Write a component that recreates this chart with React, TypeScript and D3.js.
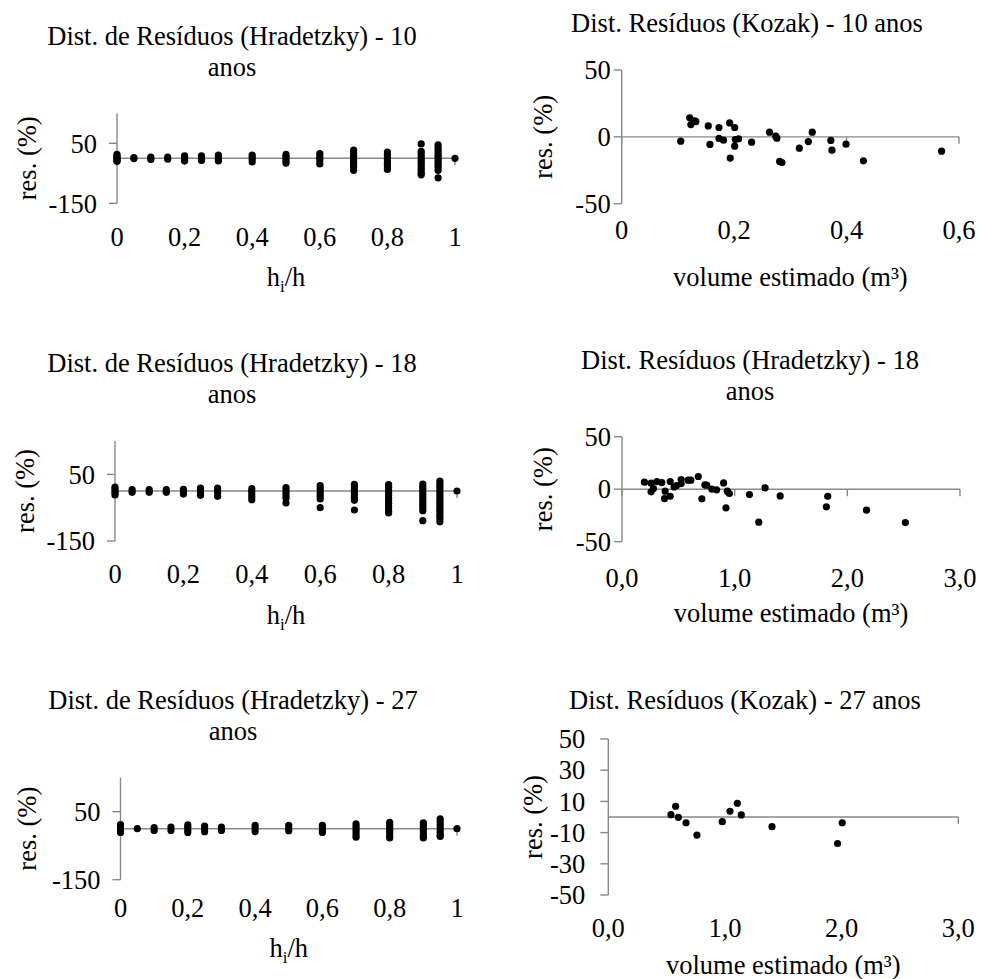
import { useEffect, useRef } from 'react';
import * as d3 from 'd3';

// alturas relativas medidas (hi/h)
const hLevels = [0, 0.05, 0.1, 0.15, 0.2, 0.25, 0.3, 0.4, 0.5, 0.6, 0.7, 0.8, 0.9, 0.95, 1];

// resíduos (%) por altura relativa - Hradetzky 10 anos
const resHrad10 = [
  [13, 8, 3, 0, -4, -8, -10],
  [2, -1],
  [4, 0, -4],
  [4, -3],
  [8, 2, -4, -9],
  [8, 2, -3, -7],
  [11, 5, -2, -9],
  [11, 4, -3, -12],
  [13, 6, -2, -9, -16],
  [16, 8, 0, -8, -19],
  [27, 18, 10, 2, -6, -14, -22, -30, -40],
  [21, 12, 4, -4, -12, -20, -28, -37],
  [48, 23, 14, 6, -2, -10, -18, -26, -34, -42, -50, -55],
  [45, 36, 27, 18, 10, 2, -6, -14, -22, -30, -40, -65],
  [0],
];

// Hradetzky 18 anos
const resHrad18 = [
  [12, 6, 0, -6, -12],
  [4, -4],
  [4, -4],
  [4, -4],
  [5, -1, -9],
  [9, 2, -5, -13],
  [9, 2, -6, -16],
  [7, -1, -9, -17, -26],
  [10, 2, -6, -14, -22, -36],
  [16, 8, 0, -8, -16, -24, -50],
  [20, 12, 4, -4, -12, -20, -28, -57],
  [19, 11, 3, -5, -13, -21, -29, -37, -45, -53, -61, -66],
  [21, 13, 5, -3, -11, -19, -27, -35, -43, -51, -59, -89],
  [30, 22, 14, 6, -2, -10, -18, -26, -34, -42, -50, -58, -66, -74, -82, -92],
  [0],
];

// Hradetzky 27 anos
const resHrad27 = [
  [12, 6, 0, -5, -11],
  [0],
  [3, -5],
  [5, -5],
  [11, 4, -4, -11],
  [8, 0, -9],
  [5, -5],
  [10, 2, -8],
  [10, 2, -6],
  [10, 2, -5, -11],
  [14, 6, -2, -10, -18, -25],
  [19, 11, 3, -5, -13, -21, -27],
  [17, 9, 1, -7, -15, -22, -27],
  [29, 21, 13, 5, -3, -11, -19, -23],
  [0],
];

// Kozak 10 anos: volume estimado (m³) x resíduo (%)
const volKozak10 = [0.105, 0.121, 0.123, 0.132, 0.130, 0.154, 0.157, 0.173, 0.173, 0.181, 0.192, 0.193, 0.201, 0.201, 0.202, 0.208, 0.231, 0.263, 0.274, 0.276, 0.281, 0.285, 0.316, 0.332, 0.339, 0.372, 0.374, 0.399, 0.430, 0.569];
const resKozak10 = [-3.2, 14.2, 9.2, 11.4, 12, 8.2, -5.7, 7, -1.2, -2.5, 10.4, -15.9, 7, -7, -2, -1.5, -4, 3.5, 0.5, -1, -18.4, -19.2, -8.5, -3.5, 3.5, -2.7, -10, -5.5, -17.9, -10.7];

// Hradetzky 18 anos (volume)
const volHrad18 = [0.199, 0.258, 0.258, 0.279, 0.309, 0.353, 0.383, 0.377, 0.428, 0.428, 0.463, 0.484, 0.525, 0.525, 0.587, 0.611, 0.677, 0.709, 0.736, 0.751, 0.798, 0.840, 0.902, 0.923, 0.935, 0.953, 1.131, 1.214, 1.270, 1.404, 1.814, 1.826, 2.170, 2.515];
const resVolHrad18 = [6.7, 5.7, -2.5, 0.6, 7.3, 6.3, -1.9, -8.9, -6.7, 7.3, 2.2, 3.5, 9.2, 5.4, 8.6, 8.6, 12.1, -9.2, 4.1, 3.8, 0, -0.6, 6, -17.8, -1.9, -4.1, -5.1, -31.4, 1.3, -6.4, -16.8, -6.7, -20, -31.8];

// Kozak 27 anos
const volKozak27 = [0.537, 0.577, 0.600, 0.666, 0.760, 0.977, 1.043, 1.106, 1.140, 1.403, 1.965, 2.005];
const resKozak27 = [1.5, 6.9, -0.2, -3.7, -11.6, -3, 3.7, 8.8, 1.3, -6.2, -17, -3.7];

// eixos
const hTicks = [0, 0.2, 0.4, 0.6, 0.8, 1];
const vol10Ticks = [0, 0.2, 0.4, 0.6];
const volTicks = [0, 1, 2, 3];
const resTicksWide = [-150, 50];
const resTicks50 = [-50, 0, 50];
const resTicks20 = [-50, -30, -10, 10, 30, 50];

const FONT = '"Liberation Serif", "Times New Roman", serif';
const AXIS = '#898989';
const FS = 26.5;

const comma = (v: number) => String(v).replace('.', ',');
const comma1 = (v: number) => v.toFixed(1).replace('.', ',');

const levelPoints = (res: number[][]) =>
  hLevels.flatMap((h, i) => res[i].map(r => [h, r]));
const pairPoints = (xs: number[], ys: number[]) => xs.map((x, i) => [x, ys[i]]);

const panels = [
  {
    title: ['Dist. de Resíduos (Hradetzky) - 10', 'anos'], titleX: 232, titleY: 45,
    x0: 117, x1: 455, yTop: 113.3, yBot: 203.3,
    xDomain: [0, 1], yDomain: [-150, 150], xTicks: hTicks, yTicks: resTicksWide, fmtX: comma,
    xTickY: 246, hTitle: true, xTitleY: 286, yTitleX: 27, yGap: 20, innerTicks: true,
    points: levelPoints(resHrad10),
  },
  {
    title: ['Dist. Resíduos (Kozak) - 10 anos'], titleX: 747, titleY: 32,
    x0: 621.7, x1: 959, yTop: 70, yBot: 203.7,
    xDomain: [0, 0.6], yDomain: [-50, 50], xTicks: vol10Ticks, yTicks: resTicks50, fmtX: comma,
    xTickY: 239, hTitle: false, xTitleY: 286, yTitleX: 543, yGap: 11, innerTicks: true,
    points: pairPoints(volKozak10, resKozak10),
  },
  {
    title: ['Dist. de Resíduos (Hradetzky) - 18', 'anos'], titleX: 232, titleY: 372,
    x0: 115, x1: 457, yTop: 441, yBot: 541,
    xDomain: [0, 1], yDomain: [-150, 150], xTicks: hTicks, yTicks: resTicksWide, fmtX: comma,
    xTickY: 583, hTitle: true, xTitleY: 624, yTitleX: 25, yGap: 20, innerTicks: true,
    points: levelPoints(resHrad18),
  },
  {
    title: ['Dist. Resíduos (Hradetzky) - 18', 'anos'], titleX: 750, titleY: 369,
    x0: 622, x1: 960, yTop: 436.7, yBot: 541.7,
    xDomain: [0, 3], yDomain: [-50, 50], xTicks: volTicks, yTicks: resTicks50, fmtX: comma1,
    xTickY: 587, hTitle: false, xTitleY: 622, yTitleX: 543, yGap: 11, innerTicks: true,
    points: pairPoints(volHrad18, resVolHrad18),
  },
  {
    title: ['Dist. de Resíduos (Hradetzky) - 27', 'anos'], titleX: 233, titleY: 709,
    x0: 120.5, x1: 457, yTop: 777.7, yBot: 879.7,
    xDomain: [0, 1], yDomain: [-150, 150], xTicks: hTicks, yTicks: resTicksWide, fmtX: comma,
    xTickY: 917, hTitle: true, xTitleY: 957, yTitleX: 27, yGap: 20, innerTicks: true,
    points: levelPoints(resHrad27),
  },
  {
    title: ['Dist. Resíduos (Kozak) - 27 anos'], titleX: 745, titleY: 709,
    x0: 608.3, x1: 958.3, yTop: 739, yBot: 895,
    xDomain: [0, 3], yDomain: [-50, 50], xTicks: volTicks, yTicks: resTicks20, fmtX: comma1,
    xTickY: 937, hTitle: false, xTitleY: 974, yTitleX: 533, yGap: 23, innerTicks: false,
    points: pairPoints(volKozak27, resKozak27),
  },
];

export default function App() {
  const svgRef = useRef<SVGSVGElement>(null);

  useEffect(() => {
    const svg = d3.select(svgRef.current);
    svg.selectAll('*').remove();

    panels.forEach(p => {
      const g = svg.append('g');
      const x = d3.scaleLinear().domain(p.xDomain).range([p.x0, p.x1]);
      const y = d3.scaleLinear().domain(p.yDomain).range([p.yBot, p.yTop]);

      // titulo
      p.title.forEach((t, i) => {
        g.append('text')
          .attr('x', p.titleX).attr('y', p.titleY + i * 31)
          .attr('text-anchor', 'middle')
          .text(t);
      });

      // eixo y
      g.append('line')
        .attr('x1', p.x0).attr('x2', p.x0)
        .attr('y1', y(p.yDomain[1])).attr('y2', y(p.yDomain[0]))
        .attr('stroke', AXIS).attr('stroke-width', 1.4);
      p.yTicks.forEach(v => {
        g.append('line')
          .attr('x1', p.x0 - 8).attr('x2', p.x0)
          .attr('y1', y(v)).attr('y2', y(v))
          .attr('stroke', AXIS).attr('stroke-width', 1.4);
        g.append('text')
          .attr('x', p.x0 - p.yGap).attr('y', y(v))
          .attr('dy', '0.35em')
          .attr('text-anchor', 'end')
          .text(v);
      });

      // eixo x (cruza em zero)
      g.append('line')
        .attr('x1', p.x0).attr('x2', p.x1)
        .attr('y1', y(0)).attr('y2', y(0))
        .attr('stroke', AXIS).attr('stroke-width', 1.4);
      p.xTicks.forEach((v, i) => {
        const last = i === p.xTicks.length - 1;
        if (p.innerTicks || last) {
          g.append('line')
            .attr('x1', x(v)).attr('x2', x(v))
            .attr('y1', y(0)).attr('y2', y(0) + 7)
            .attr('stroke', AXIS).attr('stroke-width', 1.4);
        }
        g.append('text')
          .attr('x', x(v)).attr('y', p.xTickY)
          .attr('text-anchor', 'middle')
          .text(p.fmtX(v));
      });

      // titulos dos eixos
      g.append('text')
        .attr('transform', `translate(${p.yTitleX},${(p.yTop + p.yBot) / 2}) rotate(-90)`)
        .attr('text-anchor', 'middle')
        .attr('dy', '0.35em')
        .text('res. (%)');

      const xt = g.append('text')
        .attr('x', (p.x0 + p.x1) / 2).attr('y', p.xTitleY)
        .attr('text-anchor', 'middle');
      if (p.hTitle) {
        xt.append('tspan').text('h');
        xt.append('tspan').attr('dy', 6).attr('font-size', 17).text('i');
        xt.append('tspan').attr('dy', -6).text('/h');
      } else {
        xt.text('volume estimado (m³)');
      }

      // pontos
      g.append('g')
        .selectAll('circle')
        .data(p.points)
        .join('circle')
        .attr('cx', d => x(d[0]))
        .attr('cy', d => y(d[1]))
        .attr('r', 3.6)
        .attr('fill', '#000');
    });
  }, []);

  return (
    <svg
      ref={svgRef}
      width={981}
      height={979}
      style={{ position: 'absolute', left: 0, top: 0, background: '#fff', fontFamily: FONT }}
      fontSize={FS}
      fill="#000"
    />
  );
}
